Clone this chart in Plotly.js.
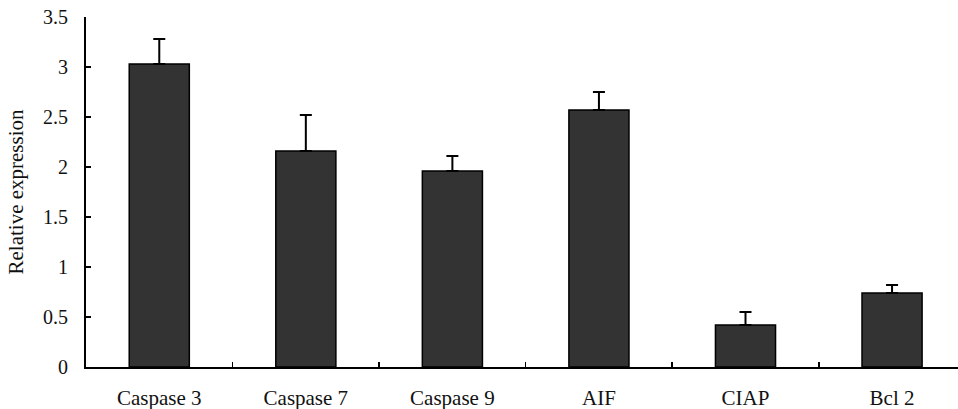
<!DOCTYPE html>
<html>
<head>
<meta charset="utf-8">
<script src="https://cdn.plot.ly/plotly-3.0.1.min.js"></script>
<style>html,body{margin:0;padding:0;background:#fff;}#chart{width:958px;height:409px;}</style>
</head>
<body>
<div id="chart"></div>
<script>
const categories = ["Caspase 3", "Caspase 7", "Caspase 9", "AIF", "CIAP", "Bcl 2"];
const expression = [3.03, 2.16, 1.96, 2.57, 0.42, 0.74];
const errorPlus = [0.25, 0.36, 0.15, 0.18, 0.13, 0.08];
const errorMinus = [0, 0, 0, 0, 0, 0];
const yTickVals = [0, 0.5, 1, 1.5, 2, 2.5, 3, 3.5];
const yTickText = ["0", "0.5", "1", "1.5", "2", "2.5", "3", "3.5"];

const serif = "Liberation Serif, Times New Roman, serif";

const trace = {
  type: "bar",
  x: categories,
  y: expression,
  width: 0.41,
  marker: { color: "#333333", line: { color: "#000000", width: 1.5 } },
  error_y: {
    type: "data",
    symmetric: false,
    array: errorPlus,
    arrayminus: errorMinus,
    color: "#000000",
    thickness: 2,
    width: 6
  },
  hoverinfo: "none"
};

const layout = {
  width: 958,
  height: 409,
  margin: { l: 86, r: 0, t: 17, b: 42, pad: 0 },
  paper_bgcolor: "#ffffff",
  plot_bgcolor: "#ffffff",
  showlegend: false,
  bargap: 0.59,
  xaxis: {
    type: "category",
    range: [-0.5, 5.45],
    showline: true,
    linecolor: "#000000",
    linewidth: 2,
    showgrid: false,
    zeroline: false,
    ticks: "inside",
    tickson: "boundaries",
    ticklen: 5,
    tickwidth: 1.5,
    tickcolor: "#000000",
    ticklabelstandoff: 11,
    tickfont: { family: serif, size: 21, color: "#111111" }
  },
  yaxis: {
    range: [0, 3.5],
    showline: true,
    linecolor: "#000000",
    linewidth: 2,
    showgrid: false,
    zeroline: false,
    ticks: "inside",
    ticklen: 5,
    tickwidth: 1.5,
    tickcolor: "#000000",
    tickvals: yTickVals,
    ticktext: yTickText,
    ticklabelstandoff: 12,
    tickfont: { family: serif, size: 20, color: "#111111" },
    title: { text: "Relative expression", font: { family: serif, size: 21, color: "#111111" }, standoff: 14 }
  }
};

Plotly.newPlot("chart", [trace], layout, { displayModeBar: false, staticPlot: true });
</script>
</body>
</html>
